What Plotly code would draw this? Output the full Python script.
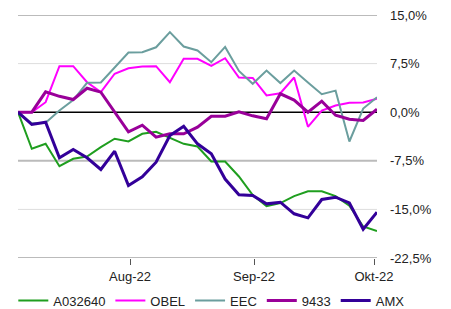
import pandas as pd
import plotly.graph_objects as go

dates = pd.date_range("2022-07-04", "2022-10-01 18:00", periods=27)

a032640 = [0, -5.65, -4.88, -8.33, -7.19, -6.84, -5.40, -4.10, -4.52, -3.33, -3.02, -4.01, -4.88, -5.29,
           -7.61, -7.61, -9.92, -12.78, -14.51, -14.02, -12.94, -12.19, -12.19, -12.96, -14.44, -17.64, -18.33]
obel = [0, 0, 1.54, 7.10, 7.10, 4.63, 3.09, 5.93, 6.79, 7.04, 7.10, 4.63, 8.24, 8.24,
        7.16, 8.33, 5.35, 5.28, 2.58, 2.93, 5.35, -2.25, 0.26, 1.03, 1.45, 1.51, 2.07]
eec = [0, -1.70, -1.62, 0.26, 1.88, 4.54, 4.58, 6.81, 9.20, 9.25, 10.02, 12.35, 10.14, 9.52,
       7.72, 10.08, 6.37, 4.38, 6.43, 4.49, 6.43, 4.60, 2.78, 3.33, -4.52, 0.57, 2.31]
s9433 = [0, 0, 3.15, 2.45, 1.96, 3.70, 3.09, 0, -3.02, -2.01, -3.86, -3.33, -3.33, -2.31,
         -0.62, -0.62, 0.06, -0.56, -1.02, 2.84, 1.88, 0, 1.70, -0.46, -1.08, -1.28, 0.46]
amx = [0, -1.90, -1.54, -7.04, -5.76, -7.04, -8.84, -6.02, -11.33, -9.98, -7.72, -3.60, -2.16, -4.88,
       -6.42, -10.31, -12.73, -12.85, -14.14, -13.89, -15.68, -16.30, -13.47, -13.12, -14.01, -18.06, -15.43]

series_names = ["A032640", "OBEL", "EEC", "9433", "AMX"]
series_values = [a032640, obel, eec, s9433, amx]
series_colors = ["#1f9e1f", "#ff00ff", "#6b9e9e", "#990099", "#330099"]
series_widths = [2, 2, 2, 3, 3]

y_ticks = [15, 7.5, 0, -7.5, -15, -22.5]
y_ticktext = ["15,0%", "7,5%", "0,0%", "-7,5%", "-15,0%", "-22,5%"]
x_ticks = ["2022-08-01", "2022-09-01", "2022-10-01"]
x_ticktext = ["Aug-22", "Sep-22", "Okt-22"]

fig = go.Figure()
for name, vals, col, w in zip(series_names, series_values, series_colors, series_widths):
    fig.add_trace(go.Scatter(x=dates, y=vals, name=name, mode="lines",
                             line=dict(color=col, width=w)))

# gridlines with alternating style
grid_styles = {15: ("#bbbbbb", 2), 7.5: ("#dddddd", 1), 0: ("#000000", 1.5),
               -7.5: ("#bbbbbb", 2), -15: ("#dddddd", 1), -22.5: ("#bbbbbb", 2)}
for v in y_ticks:
    c, w = grid_styles[v]
    fig.add_shape(type="line", xref="paper", x0=0, x1=1, yref="y", y0=v, y1=v,
                  line=dict(color=c, width=w), layer="below")

fig.update_layout(
    width=451, height=309,
    margin=dict(l=18, r=74, t=15, b=51, autoexpand=False),
    paper_bgcolor="white", plot_bgcolor="white",
    font=dict(family="Liberation Sans, Arial, sans-serif", size=13, color="#222222"),
    showlegend=True,
    legend=dict(orientation="h", xanchor="right", x=1.09, yanchor="middle", y=-0.175,
                font=dict(size=13), bgcolor="rgba(0,0,0,0)", tracegroupgap=0),
)
fig.update_xaxes(range=[dates[0], dates[-1]], showgrid=False, zeroline=False, showline=False,
                 tickvals=x_ticks, ticktext=x_ticktext, ticks="outside", ticklen=6,
                 tickcolor="#555555", tickwidth=1)
fig.update_yaxes(range=[-22.5, 15], side="right", showgrid=False, zeroline=False, showline=False,
                 tickvals=y_ticks, ticktext=y_ticktext, ticks="", ticklabelstandoff=12)

fig.write_html("out.html", config={"displayModeBar": False},
               post_script="document.body.style.margin='0';")
